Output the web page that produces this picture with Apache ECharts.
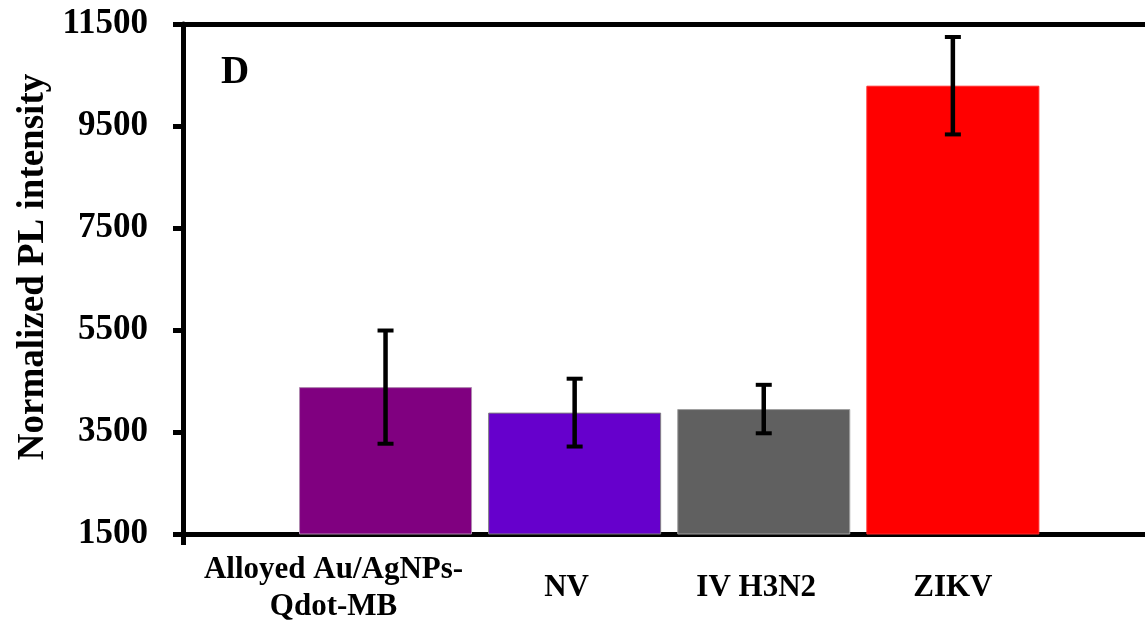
<!DOCTYPE html>
<html>
<head>
<meta charset="utf-8">
<script src="https://cdn.jsdelivr.net/npm/echarts@6/dist/echarts.min.js"></script>
<style>
html, body { margin: 0; padding: 0; background: #fff; }
#chart { width: 1145px; height: 625px; }
</style>
</head>
<body>
<div id="chart"></div>
<script>
// Normalized PL intensity per sample, mean and standard deviation
const categories = ['Alloyed Au/AgNPs-\nQdot-MB', 'NV', 'IV H3N2', 'ZIKV'];
const intensity = [4380, 3880, 3950, 10290];
const errors = [1110, 665, 475, 955];
const yTicks = [1500, 3500, 5500, 7500, 9500, 11500];

// appearance
const barColors = ['#800080', '#6600cc', '#606060', '#ff0000'];
const barBorders = ['#b08ab0', '#808080', '#a0a0a0', '#ff2a2a'];
const labelShift = [-0.275, -0.043, -0.04, 0]; // horizontal nudge of each category label, in category units
const FONT = '"Liberation Serif", "Times New Roman", serif';
const X_MIN = -1.071, X_MAX = 4.016;

const labelPos = categories.map((c, i) => i + labelShift[i]);

const barData = intensity.map((v, i) => ({
  value: [i, v],
  itemStyle: { color: barColors[i], borderColor: barBorders[i], borderWidth: 1 }
}));
const errData = intensity.map((v, i) => [i, v - errors[i], v + errors[i]]);

const chart = echarts.init(document.getElementById('chart'), null, { renderer: 'canvas' });
chart.setOption({
  animation: false,
  backgroundColor: '#fff',
  title: {
    text: 'D', left: 216, top: 48,
    textStyle: { fontFamily: FONT, fontWeight: 'bold', fontSize: 39, color: '#000' }
  },
  grid: { left: 183, right: 0, top: 24, bottom: 88, containLabel: false },
  xAxis: [{
    type: 'value', min: X_MIN, max: X_MAX, position: 'bottom',
    axisLine: { show: true, onZero: false, lineStyle: { color: '#000', width: 5 } },
    axisTick: { show: true, customValues: [X_MIN], length: 11, lineStyle: { color: '#000', width: 5 } },
    axisLabel: {
      show: true, customValues: labelPos, margin: 54, verticalAlign: 'middle', hideOverlap: false,
      fontFamily: FONT, fontWeight: 'bold', fontSize: 31, color: '#000', lineHeight: 37,
      formatter: (v) => {
        let best = 0;
        labelPos.forEach((p, i) => { if (Math.abs(p - v) < Math.abs(labelPos[best] - v)) best = i; });
        return categories[best];
      }
    },
    splitLine: { show: false }
  }, {
    type: 'value', min: X_MIN, max: X_MAX, position: 'top',
    axisLine: { show: true, onZero: false, lineStyle: { color: '#000', width: 5 } },
    axisTick: { show: false }, axisLabel: { show: false }, splitLine: { show: false }
  }],
  yAxis: {
    type: 'value', min: yTicks[0], max: yTicks[yTicks.length - 1], interval: 2000,
    name: 'Normalized PL intensity', nameLocation: 'middle', nameGap: 130, nameRotate: 90,
    nameTextStyle: { fontFamily: FONT, fontWeight: 'bold', fontSize: 37, color: '#000', padding: [0, 0, 0, 24] },
    axisLine: { show: true, onZero: false, lineStyle: { color: '#000', width: 5 } },
    axisTick: { show: true, length: 10, lineStyle: { color: '#000', width: 5 } },
    axisLabel: {
      margin: 35, fontFamily: FONT, fontWeight: 'bold', fontSize: 35, color: '#000',
      formatter: (v) => String(v)
    },
    splitLine: { show: false }
  },
  series: [{
    type: 'bar', xAxisIndex: 0, barWidth: 173, data: barData, z: 2
  }, {
    type: 'custom', xAxisIndex: 0, z: 3, data: errData,
    renderItem: (params, api) => {
      const x = api.value(0);
      const lo = api.coord([x, api.value(1)]);
      const hi = api.coord([x, api.value(2)]);
      const cap = 8;
      return {
        type: 'group',
        children: [
          { type: 'line', shape: { x1: lo[0], y1: lo[1], x2: hi[0], y2: hi[1] }, style: { stroke: '#000', lineWidth: 4.5 } },
          { type: 'line', shape: { x1: hi[0] - cap, y1: hi[1], x2: hi[0] + cap, y2: hi[1] }, style: { stroke: '#000', lineWidth: 4 } },
          { type: 'line', shape: { x1: lo[0] - cap, y1: lo[1], x2: lo[0] + cap, y2: lo[1] }, style: { stroke: '#000', lineWidth: 4 } }
        ]
      };
    }
  }]
});
</script>
</body>
</html>
